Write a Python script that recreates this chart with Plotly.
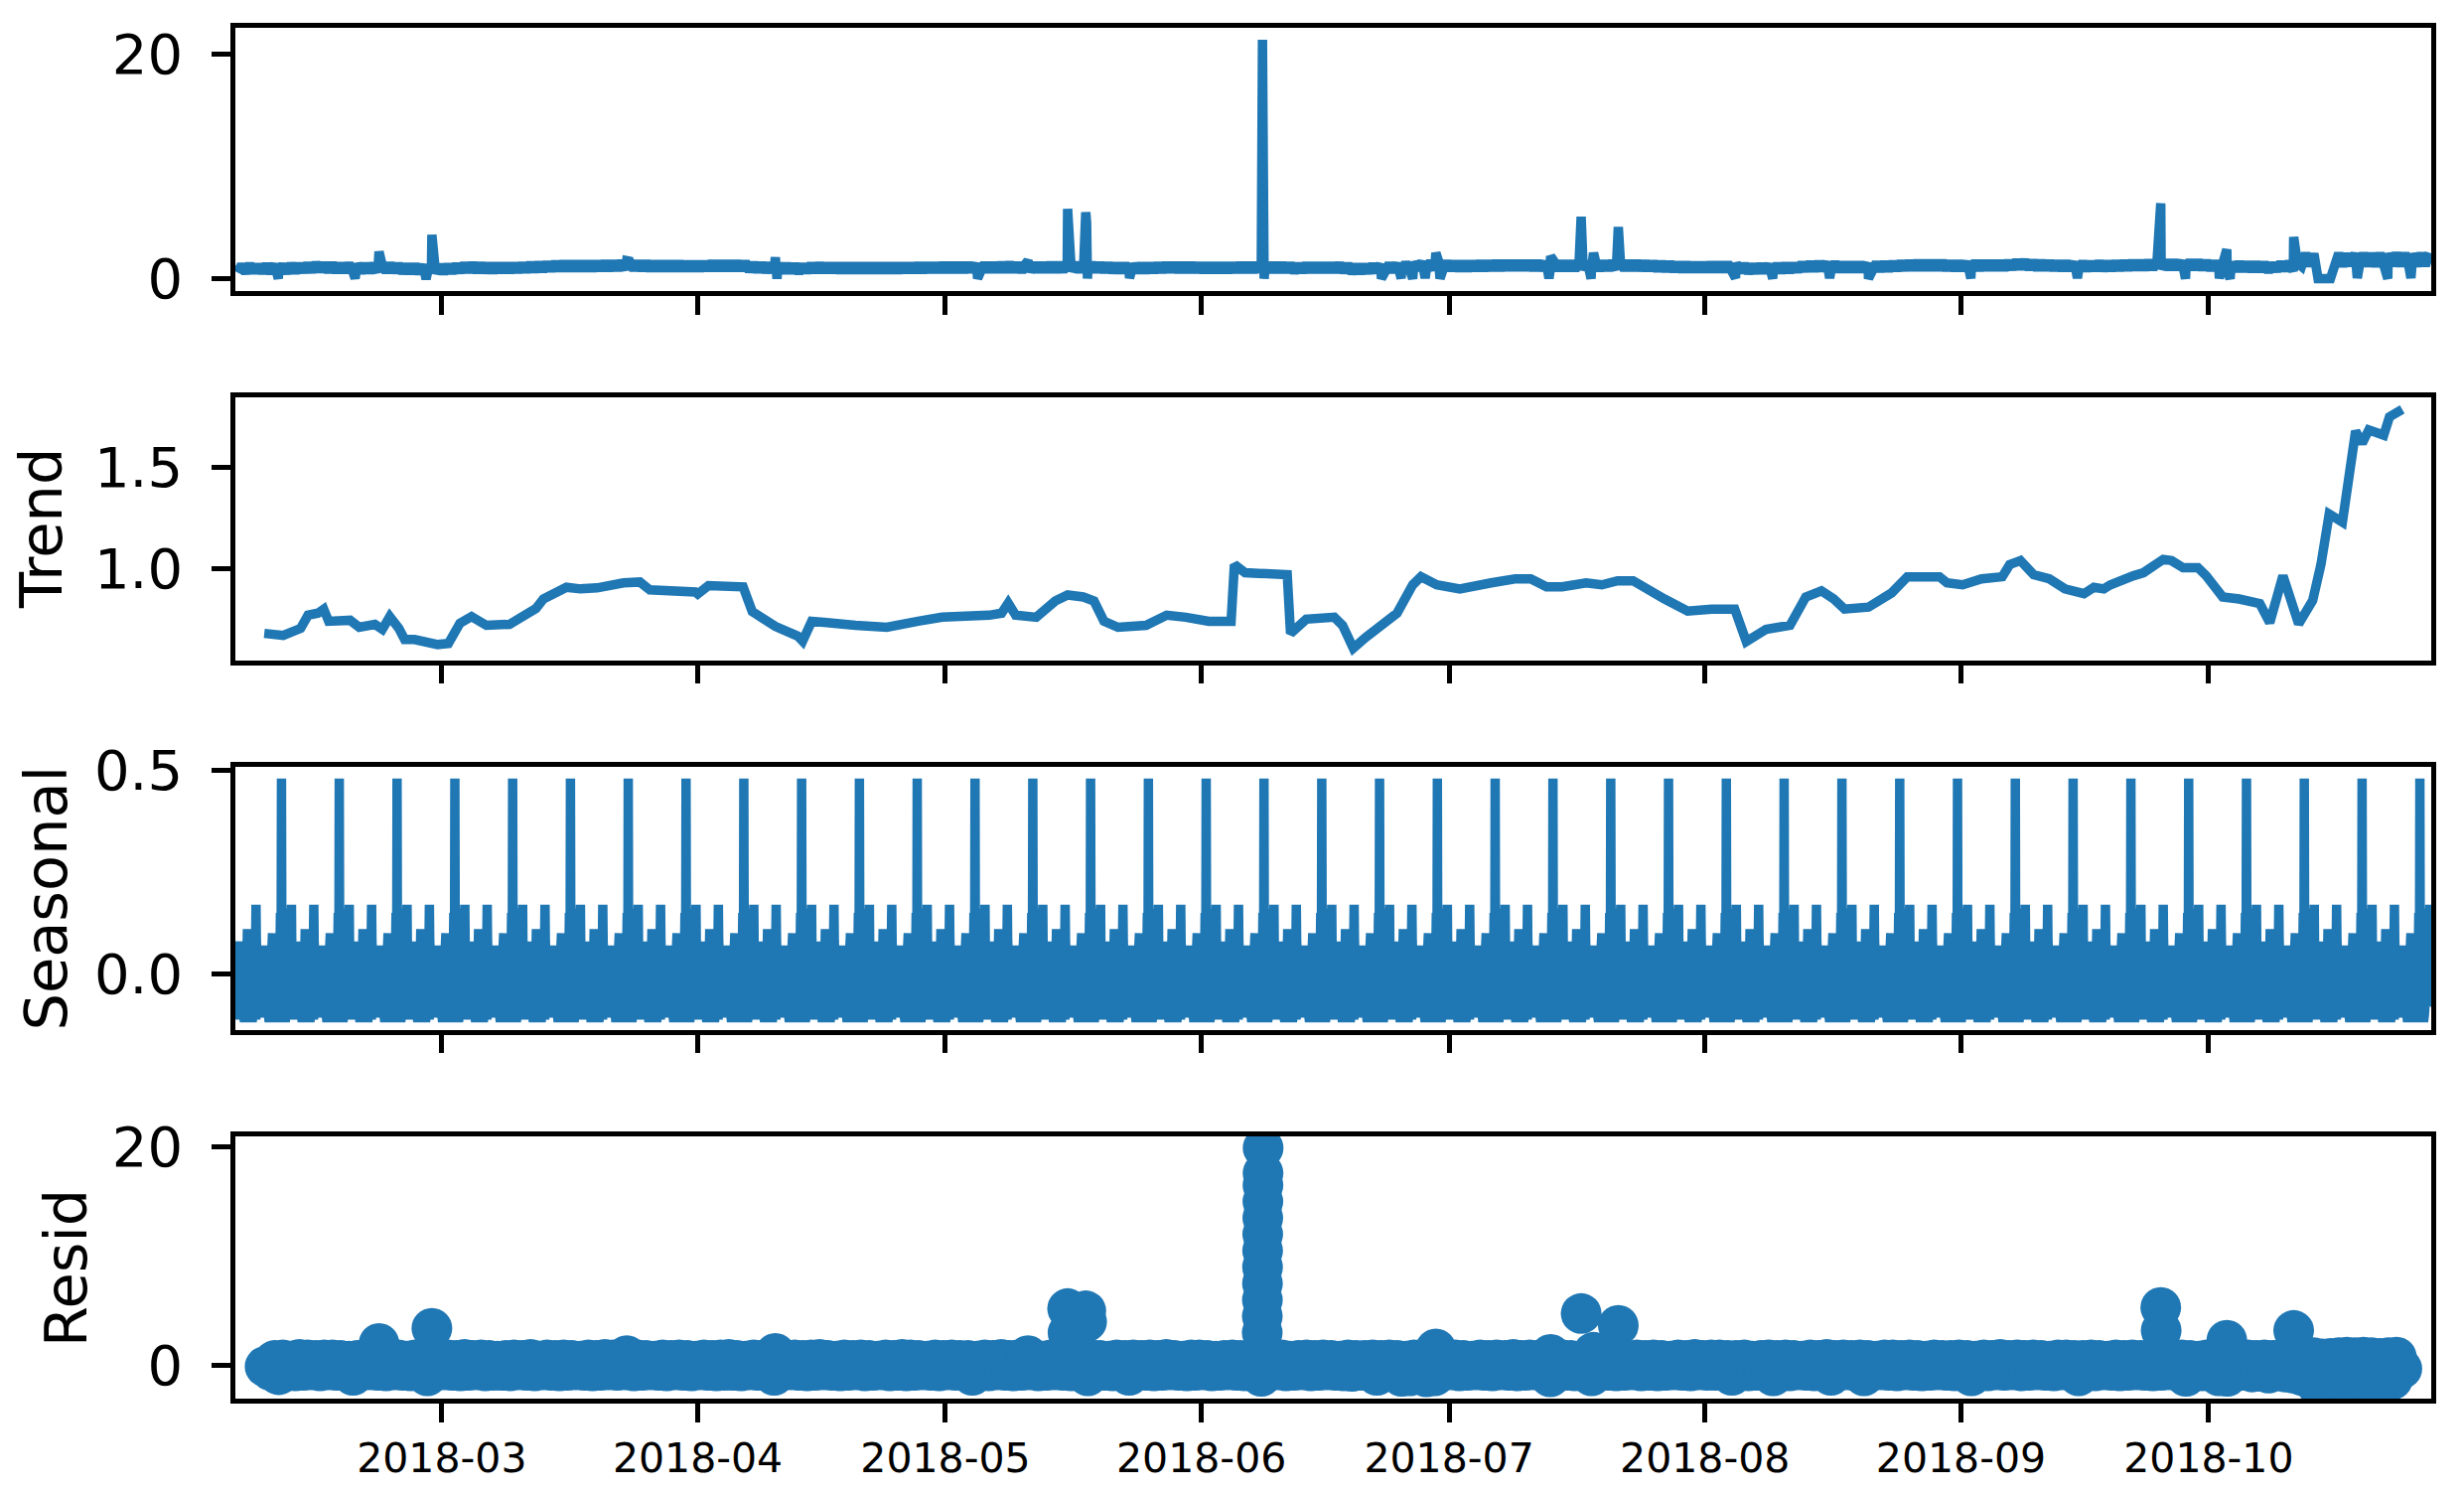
"""
Seasonal decomposition plot (observed / trend / seasonal / resid), hourly data Feb-Oct 2018
"""

import pandas as pd
import plotly.graph_objects as go
from plotly.subplots import make_subplots


BLUE = '#1f77b4'

START = pd.Timestamp('2018-02-04 00:00')
END = pd.Timestamp('2018-10-27 23:00')

MONTH_TICKS = ['2018-03-01', '2018-04-01', '2018-05-01', '2018-06-01',
               '2018-07-01', '2018-08-01', '2018-09-01', '2018-10-01']
MONTH_LABELS = ['2018-03', '2018-04', '2018-05', '2018-06',
                '2018-07', '2018-08', '2018-09', '2018-10']

# --- observed: value at 06:00 and 18:00 of every day (day 0 = 2018-02-04)
OBS_LOW = [
    0.55, 0.50, 0.55, 0.52, 0.48, 0.54, 0.50,
    0.55, 0.60, 0.62, 0.65, 0.60, 0.58, 0.60,
    0.58, 0.55, 0.57, 0.56, 0.60, 0.57, 0.50,
    0.50, 0.48, 0.48, 0.47, 0.48, 0.52, 0.58,
    0.60, 0.58, 0.57, 0.57, 0.58, 0.58, 0.60,
    0.63, 0.65, 0.68, 0.72, 0.74, 0.75, 0.75,
    0.75, 0.75, 0.76, 0.77, 0.78, 0.78, 0.78,
    0.77, 0.74, 0.74, 0.74, 0.74, 0.73, 0.73,
    0.73, 0.76, 0.77, 0.76, 0.76, 0.76, 0.65,
    0.62, 0.59, 0.57, 0.55, 0.53, 0.50, 0.57,
    0.59, 0.58, 0.58, 0.57, 0.57, 0.57, 0.56,
    0.56, 0.56, 0.56, 0.57, 0.58, 0.59, 0.59,
    0.60, 0.61, 0.61, 0.61, 0.61, 0.62, 0.62,
    0.62, 0.63, 0.64, 0.62, 0.61, 0.61, 0.62,
    0.63, 0.63, 0.64, 0.64, 0.63, 0.63, 0.62,
    0.60, 0.57, 0.56, 0.56, 0.56, 0.57, 0.59,
    0.61, 0.62, 0.61, 0.61, 0.60, 0.59, 0.59,
    0.59, 0.59, 0.61, 0.61, 0.61, 0.61, 0.61,
    0.61, 0.61, 0.55, 0.59, 0.60, 0.60, 0.60,
    0.61, 0.57, 0.48, 0.49, 0.53, 0.56, 0.59,
    0.62, 0.66, 0.74, 0.80, 0.79, 0.77, 0.76,
    0.75, 0.75, 0.75, 0.76, 0.77, 0.78, 0.79,
    0.80, 0.80, 0.80, 0.79, 0.77, 0.76, 0.76,
    0.76, 0.77, 0.78, 0.77, 0.77, 0.78, 0.79,
    0.79, 0.79, 0.77, 0.75, 0.72, 0.70, 0.67,
    0.65, 0.64, 0.64, 0.65, 0.65, 0.65, 0.65,
    0.57, 0.50, 0.53, 0.55, 0.55, 0.56, 0.58,
    0.65, 0.71, 0.72, 0.74, 0.71, 0.66, 0.65,
    0.65, 0.66, 0.68, 0.70, 0.72, 0.76, 0.80,
    0.81, 0.81, 0.81, 0.81, 0.78, 0.77, 0.77,
    0.78, 0.79, 0.80, 0.80, 0.81, 0.87, 0.89,
    0.84, 0.81, 0.80, 0.78, 0.76, 0.75, 0.74,
    0.73, 0.76, 0.75, 0.77, 0.79, 0.81, 0.82,
    0.83, 0.86, 0.85, 0.85, 0.85, 0.85, 0.85,
    0.83, 0.78, 0.72, 0.70, 0.70, 0.69, 0.68,
    0.67, 0.60, 0.70, 0.75, 0.65, 1.10, 1.12,
    0.00, 0.00, 1.12, 1.10, 1.15, 1.10, 1.12,
    1.10, 1.12, 1.15, 1.12, 1.10, 1.12, 1.15,
]
OBS_HIGH = [
    1.25, 1.30, 1.22, 1.28, 1.30, 1.26, 1.32,
    1.30, 1.35, 1.40, 1.38, 1.36, 1.32, 1.34,
    1.33, 1.30, 1.32, 1.30, 1.36, 1.31, 1.26,
    1.25, 1.24, 1.22, 1.22, 1.23, 1.27, 1.34,
    1.36, 1.34, 1.32, 1.32, 1.32, 1.33, 1.35,
    1.38, 1.40, 1.44, 1.47, 1.49, 1.50, 1.50,
    1.50, 1.50, 1.51, 1.52, 1.53, 1.55, 1.53,
    1.52, 1.49, 1.49, 1.49, 1.49, 1.48, 1.48,
    1.48, 1.51, 1.52, 1.51, 1.51, 1.51, 1.40,
    1.37, 1.34, 1.32, 1.30, 1.28, 1.25, 1.32,
    1.34, 1.33, 1.33, 1.32, 1.32, 1.32, 1.31,
    1.31, 1.31, 1.31, 1.32, 1.33, 1.34, 1.34,
    1.35, 1.36, 1.36, 1.36, 1.36, 1.37, 1.37,
    1.37, 1.38, 1.42, 1.37, 1.36, 1.36, 1.37,
    1.38, 1.38, 1.39, 1.39, 1.38, 1.38, 1.37,
    1.35, 1.32, 1.31, 1.31, 1.31, 1.32, 1.34,
    1.36, 1.37, 1.36, 1.36, 1.35, 1.34, 1.34,
    1.34, 1.34, 1.36, 1.36, 1.36, 1.36, 1.36,
    1.36, 1.36, 1.30, 1.34, 1.35, 1.35, 1.35,
    1.36, 1.32, 1.23, 1.24, 1.28, 1.31, 1.34,
    1.37, 1.41, 1.49, 1.55, 1.54, 1.52, 1.51,
    1.50, 1.50, 1.50, 1.51, 1.52, 1.53, 1.54,
    1.55, 1.55, 1.55, 1.54, 1.52, 1.51, 1.51,
    1.51, 1.52, 1.53, 1.52, 1.52, 1.53, 1.54,
    1.54, 1.54, 1.52, 1.50, 1.47, 1.45, 1.42,
    1.40, 1.39, 1.39, 1.40, 1.40, 1.40, 1.40,
    1.32, 1.25, 1.28, 1.30, 1.30, 1.31, 1.33,
    1.40, 1.46, 1.47, 1.49, 1.46, 1.41, 1.40,
    1.40, 1.41, 1.43, 1.45, 1.47, 1.51, 1.55,
    1.56, 1.56, 1.56, 1.56, 1.53, 1.52, 1.52,
    1.53, 1.54, 1.55, 1.55, 1.56, 1.62, 1.64,
    1.59, 1.56, 1.55, 1.53, 1.51, 1.50, 1.49,
    1.48, 1.51, 1.50, 1.52, 1.54, 1.56, 1.57,
    1.58, 1.61, 1.60, 1.60, 1.60, 1.60, 1.60,
    1.58, 1.53, 1.47, 1.45, 1.45, 1.44, 1.43,
    1.42, 1.35, 1.45, 1.50, 1.40, 2.25, 2.22,
    0.00, 0.00, 2.25, 2.22, 2.28, 2.25, 2.24,
    2.25, 2.26, 2.28, 2.25, 2.24, 2.27, 2.30,
]
# spikes and drop-outs of the observed series (days since 2018-02-04)
OBS_EVENT_DAYS = [5.2, 14.5, 17.4, 23.1, 23.8, 47.4, 65.4, 65.6, 89.9, 96.0,
                  100.8, 103.0, 103.1, 103.2, 108.3, 124.4, 124.6, 138.8, 141.2,
                  142.6, 144.1, 145.4, 145.9, 159.1, 159.3, 163.0, 164.2, 164.5,
                  167.5, 181.7, 186.2, 193.1, 197.8, 210.2, 223.1, 233.2, 236.2,
                  240.3, 241.2, 241.6, 249.3, 257.0, 260.7, 263.5]
OBS_EVENT_VALUES = [0.0, 0.02, 2.4, -0.05, 3.9, 1.6, 1.9, 0.0, 0.02, 1.6,
                    6.2, 5.9, 5.0, 0.0, 0.05, 21.23, 0.0, 0.0, 0.02,
                    0.0, 0.05, 2.3, 0.0, 0.02, 2.0, 5.5, 0.0, 2.3,
                    4.6, 0.05, 0.0, 0.05, 0.0, 0.02, 0.05, 6.7, 0.0,
                    0.02, 2.6, 0.0, 3.7, 0.05, 0.0, 0.05]

# --- trend (7-day centred moving average), read as knots
TREND_DAYS = [3.5, 5.8, 7.9, 8.8, 10.0, 10.7, 11.3, 13.9, 15.0, 16.9, 17.8, 18.7, 19.8,
              20.5, 21.7, 24.5, 25.8, 27.2, 28.6, 30.4, 33.2, 36.4, 37.3, 40.1, 41.8,
              43.8, 47.0, 49.0, 50.2, 55.7, 56.0, 57.3, 61.5, 62.6, 65.4, 68.1, 68.7,
              69.8, 71.3, 75.1, 78.9, 82.7, 85.6, 91.3, 92.8, 93.6, 94.5, 97.0, 99.3,
              100.8, 102.7, 104.0, 105.2, 106.9, 110.3, 112.8, 115.1, 117.9, 120.6,
              121.0, 122.3, 127.4, 127.8, 129.7, 133.1, 134.1, 135.4, 136.9, 140.7,
              142.6, 143.6, 145.5, 148.3, 152.1, 155.0, 156.9, 158.8, 160.7, 163.6,
              165.5, 167.4, 169.3, 173.1, 175.9, 178.8, 181.6, 183.0, 185.4, 188.3,
              190.2, 192.1, 193.6, 194.9, 197.8, 200.6, 202.5, 206.4, 207.3, 209.2,
              211.5, 214.0, 214.9, 216.2, 217.8, 219.7, 221.6, 223.9, 225.1, 226.3,
              227.1, 229.9, 231.1, 233.5, 234.5, 235.9, 237.7, 238.7, 240.7, 242.7,
              245.2, 246.4, 248.0, 249.9, 251.6, 252.6, 253.6, 255.2, 256.8, 257.6,
              258.4, 260.2, 260.9, 262.45]
TREND_VALUES = [0.68, 0.67, 0.705, 0.77, 0.78, 0.80, 0.74, 0.745, 0.71, 0.725, 0.70, 0.763,
                0.705, 0.65, 0.65, 0.625, 0.63, 0.73, 0.763, 0.72, 0.725, 0.803, 0.85,
                0.908, 0.90, 0.905, 0.93, 0.934, 0.895, 0.885, 0.875, 0.916, 0.91, 0.788,
                0.715, 0.667, 0.642, 0.74, 0.735, 0.72, 0.71, 0.74, 0.76, 0.77, 0.78, 0.83,
                0.77, 0.76, 0.84, 0.87, 0.86, 0.84, 0.74, 0.71, 0.72, 0.77, 0.76, 0.74,
                0.74, 1.02, 0.98, 0.97, 0.68, 0.75, 0.76, 0.72, 0.607, 0.66, 0.78, 0.92,
                0.96, 0.92, 0.90, 0.93, 0.95, 0.95, 0.91, 0.91, 0.93, 0.92, 0.94, 0.94,
                0.85, 0.79, 0.80, 0.80, 0.64, 0.70, 0.72, 0.86, 0.89, 0.85, 0.80, 0.81,
                0.88, 0.96, 0.96, 0.93, 0.92, 0.95, 0.96, 1.02, 1.04, 0.97, 0.95, 0.90,
                0.876, 0.908, 0.90, 0.92, 0.965, 0.98, 1.046, 1.04, 1.005, 1.005, 0.965,
                0.86, 0.85, 0.827, 0.733, 0.965, 0.727, 0.843, 1.02, 1.27, 1.23, 1.68,
                1.62, 1.686, 1.66, 1.75, 1.787]

# --- seasonal: one week of hourly values, Sunday 00:00 -> Saturday 23:00
SEASONAL_WEEK = [
    -0.08, -0.09, -0.10, -0.10, -0.09, -0.07, -0.05, -0.03, 0.00, 0.02, 0.04, 0.05,
    0.07, 0.06, 0.08, 0.05, 0.03, 0.02, 0.00, -0.02, -0.04, -0.06, -0.08, -0.09,
    -0.10, -0.107, -0.107, -0.10, -0.09, -0.07, -0.04, -0.01, 0.02, 0.04, 0.06, 0.11,
    0.08, 0.06, 0.05, 0.07, 0.04, 0.02, 0.00, -0.03, -0.05, -0.07, -0.09, -0.10,
    -0.10, -0.107, -0.107, -0.10, -0.09, -0.07, -0.04, -0.01, 0.02, 0.05, 0.07, 0.09,
    0.17, 0.08, 0.06, 0.07, 0.05, 0.03, 0.01, -0.02, -0.05, -0.07, -0.09, -0.10,
    -0.10, -0.10, -0.105, -0.10, -0.09, -0.07, -0.05, -0.02, 0.01, 0.03, 0.05, 0.06,
    0.05, 0.07, 0.05, 0.04, 0.03, 0.02, 0.00, -0.02, -0.04, -0.06, -0.08, -0.09,
    -0.10, -0.107, -0.107, -0.10, -0.09, -0.07, -0.04, -0.01, 0.02, 0.04, 0.06, 0.08,
    0.10, 0.07, 0.06, 0.05, 0.04, 0.02, 0.00, -0.02, -0.05, -0.07, -0.09, -0.10,
    -0.107, -0.107, -0.107, -0.10, -0.09, -0.07, -0.04, -0.01, 0.02, 0.05, 0.08, 0.15,
    0.09, 0.07, 0.479, 0.10, 0.16, 0.06, 0.02, -0.01, -0.04, -0.07, -0.09, -0.10,
    -0.10, -0.107, -0.107, -0.10, -0.09, -0.07, -0.05, -0.02, 0.01, 0.03, 0.05, 0.06,
    0.08, 0.07, 0.06, 0.08, 0.06, 0.10, 0.12, 0.17, 0.06, 0.00, -0.05, -0.08,
]
N_WEEKS = 38

# --- resid: value at 06:00 and 18:00 from day 4 to day 261
RESID_FIRST_DAY = 4
RESID_LOW = [
    -0.45, -0.85, -0.40, -0.50, -0.45, -0.40, -0.50,
    -0.40, -0.45, -0.50, -0.90, -0.45, -0.40, -0.45,
    -0.50, -0.40, -0.45, -0.50, -0.40, -0.95, -0.45,
    -0.40, -0.45, -0.50, -0.45, -0.40, -0.50, -0.45,
    -0.45, -0.50, -0.40, -0.45, -0.50, -0.40, -0.45,
    -0.50, -0.45, -0.40, -0.45, -0.50, -0.45, -0.40,
    -0.45, -0.40, -0.50, -0.45, -0.40, -0.45, -0.50,
    -0.40, -0.45, -0.50, -0.40, -0.45, -0.50, -0.45,
    -0.45, -0.50, -0.40, -0.45, -0.50, -0.90, -0.45,
    -0.40, -0.45, -0.50, -0.45, -0.40, -0.45, -0.50,
    -0.45, -0.40, -0.50, -0.45, -0.40, -0.50, -0.45,
    -0.50, -0.45, -0.40, -0.45, -0.50, -0.40, -0.45,
    -0.40, -0.90, -0.45, -0.50, -0.40, -0.45, -0.50,
    -0.45, -0.40, -0.50, -0.45, -0.40, -0.45, -0.50,
    -0.45, -0.95, -0.40, -0.45, -0.50, -0.45, -0.90,
    -0.40, -0.45, -0.50, -0.45, -0.40, -0.45, -0.50,
    -0.45, -0.40, -0.50, -0.45, -0.40, -0.45, -0.50,
    -0.45, -1.00, -0.45, -0.40, -0.50, -0.45, -0.40,
    -0.50, -0.45, -0.40, -0.45, -0.50, -0.55, -0.45,
    -0.50, -0.90, -0.45, -0.50, -1.00, -0.95, -0.45,
    -1.05, -0.95, -0.45, -0.40, -0.50, -0.45, -0.40,
    -0.45, -0.50, -0.40, -0.45, -0.50, -0.45, -0.40,
    -0.45, -1.05, -0.40, -0.45, -0.50, -0.45, -0.95,
    -0.40, -0.45, -0.50, -0.45, -0.40, -0.50, -0.45,
    -0.50, -0.45, -0.40, -0.45, -0.50, -0.40, -0.45,
    -0.45, -0.40, -0.90, -0.45, -0.50, -0.45, -0.40,
    -0.95, -0.45, -0.50, -0.40, -0.45, -0.50, -0.45,
    -0.90, -0.45, -0.40, -0.50, -0.95, -0.45, -0.40,
    -0.45, -0.50, -0.40, -0.45, -0.50, -0.45, -0.40,
    -0.45, -0.50, -0.40, -0.95, -0.45, -0.50, -0.40,
    -0.45, -0.40, -0.50, -0.45, -0.40, -0.45, -0.50,
    -0.40, -0.45, -0.95, -0.45, -0.50, -0.40, -0.45,
    -0.50, -0.45, -0.40, -0.45, -0.50, -0.45, -0.40,
    -0.45, -1.00, -0.45, -0.50, -0.45, -0.95, -1.00,
    -0.50, -0.45, -0.60, -0.55, -0.70, -0.50, -0.60,
    -0.70, -0.90, -1.20, -1.95, -1.70, -1.30, -1.35,
    -1.30, -1.45, -1.30, -1.25, -1.40, -1.30,
]
RESID_HIGH = [
    0.45, 0.50, 0.40, 0.55, 0.50, 0.45, 0.50,
    0.50, 0.45, 0.40, 0.45, 0.50, 0.45, 0.55,
    0.45, 0.50, 0.40, 0.50, 0.45, 0.40, 0.50,
    0.50, 0.45, 0.55, 0.45, 0.50, 0.45, 0.40,
    0.45, 0.50, 0.45, 0.55, 0.40, 0.50, 0.45,
    0.50, 0.45, 0.40, 0.50, 0.45, 0.55, 0.50,
    0.45, 0.55, 0.50, 0.45, 0.40, 0.50, 0.45,
    0.50, 0.45, 0.40, 0.50, 0.45, 0.50, 0.55,
    0.45, 0.40, 0.50, 0.45, 0.50, 0.45, 0.40,
    0.50, 0.45, 0.50, 0.55, 0.45, 0.40, 0.50,
    0.45, 0.50, 0.45, 0.40, 0.50, 0.45, 0.55,
    0.50, 0.45, 0.40, 0.50, 0.45, 0.50, 0.45,
    0.45, 0.40, 0.50, 0.45, 0.55, 0.45, 0.50,
    0.50, 0.45, 0.40, 0.50, 0.45, 0.50, 0.45,
    0.45, 0.50, 0.45, 0.40, 0.50, 0.45, 0.50,
    0.45, 0.50, 0.45, 0.55, 0.45, 0.40, 0.50,
    0.50, 0.45, 0.40, 0.45, 0.50, 0.45, 0.40,
    0.45, 0.50, 0.45, 0.50, 0.40, 0.45, 0.50,
    0.45, 0.50, 0.45, 0.40, 0.50, 0.45, 0.45,
    0.50, 0.45, 0.50, 0.45, 0.40, 0.50, 0.55,
    0.45, 0.50, 0.45, 0.50, 0.45, 0.40, 0.50,
    0.45, 0.50, 0.45, 0.55, 0.45, 0.50, 0.45,
    0.50, 0.45, 0.50, 0.45, 0.40, 0.50, 0.45,
    0.45, 0.50, 0.45, 0.40, 0.50, 0.45, 0.50,
    0.45, 0.40, 0.50, 0.45, 0.55, 0.45, 0.50,
    0.50, 0.45, 0.45, 0.50, 0.40, 0.45, 0.50,
    0.45, 0.50, 0.45, 0.40, 0.50, 0.45, 0.55,
    0.45, 0.50, 0.45, 0.50, 0.45, 0.40, 0.50,
    0.50, 0.45, 0.50, 0.45, 0.40, 0.50, 0.45,
    0.45, 0.50, 0.45, 0.40, 0.50, 0.45, 0.55,
    0.45, 0.50, 0.45, 0.50, 0.45, 0.40, 0.50,
    0.50, 0.45, 0.45, 0.50, 0.45, 0.40, 0.50,
    0.45, 0.50, 0.45, 0.50, 0.45, 0.50, 0.45,
    0.50, 0.45, 0.40, 0.50, 0.45, 0.45, 0.50,
    0.45, 0.50, 0.45, 0.50, 0.45, 0.55, 0.50,
    0.80, 0.75, 0.70, 0.60, 0.65, 0.70, 0.75,
    0.70, 0.75, 0.70, 0.65, 0.70, 0.75,
]
RESID_EVENT_DAYS = [3.6, 17.4, 23.8, 47.4, 65.4, 96.0, 100.8, 100.85, 103.0, 103.1,
                    124.36, 124.37, 124.38, 124.39, 124.40, 124.41, 124.42, 124.43,
                    124.44, 124.45, 124.46, 124.47, 124.48,
                    145.4, 159.3, 163.0, 164.5, 167.5, 233.2, 233.25, 241.2,
                    249.3, 262.4]
RESID_EVENT_VALUES = [-0.1, 2.0, 3.4, 0.9, 1.1, 0.9, 5.2, 3.0, 5.0, 4.0,
                      1.5, 3.0, 4.5, 6.0, 7.5, 9.0, 10.5, 12.0,
                      13.5, 15.0, 16.5, 17.6, 19.9,
                      1.5, 1.0, 4.75, 1.2, 3.66, 5.3, 3.2, 2.3,
                      3.2, -0.3]


def to_time(days):
    return START + pd.to_timedelta(days, unit='D')


def twice_daily(low, high, first_day, event_days, event_values):
    """06:00 / 18:00 values plus irregular events, sorted in time"""
    days, vals = [], []
    for i, (lo, hi) in enumerate(zip(low, high)):
        days += [first_day + i + 0.25, first_day + i + 0.75]
        vals += [lo, hi]
    s = pd.Series(vals + event_values, index=days + event_days).sort_index()
    return to_time(s.index.values), s.values


obs_t, obs_v = twice_daily(OBS_LOW, OBS_HIGH, 0, OBS_EVENT_DAYS, OBS_EVENT_VALUES)
res_t, res_v = twice_daily(RESID_LOW, RESID_HIGH, RESID_FIRST_DAY,
                           RESID_EVENT_DAYS, RESID_EVENT_VALUES)
trend_t = to_time(pd.Series(TREND_DAYS).values)
seas_t = pd.date_range(START, periods=len(SEASONAL_WEEK) * N_WEEKS, freq='h')
seas_v = SEASONAL_WEEK * N_WEEKS

fig = make_subplots(rows=4, cols=1, shared_xaxes=True)

line = dict(color=BLUE, width=9.5, simplify=False)
fig.add_trace(go.Scatter(x=obs_t, y=obs_v, mode='lines', line=line), row=1, col=1)
fig.add_trace(go.Scatter(x=trend_t, y=TREND_VALUES, mode='lines', line=line), row=2, col=1)
fig.add_trace(go.Scatter(x=seas_t, y=seas_v, mode='lines', line=line), row=3, col=1)
fig.add_trace(go.Scatter(x=res_t, y=res_v, mode='markers',
                         marker=dict(color=BLUE, size=41, line=dict(width=0))),
              row=4, col=1)

axis_style = dict(
    showline=True, linecolor='black', linewidth=4.5, mirror=True,
    ticks='outside', ticklen=19, tickwidth=4.5, tickcolor='black',
    showgrid=False, zeroline=False, automargin=False,
)
fig.update_xaxes(**axis_style, range=[START, END],
                 tickvals=MONTH_TICKS, ticktext=MONTH_LABELS,
                 tickfont=dict(size=41), ticklabelstandoff=1)
for r in (1, 2, 3):
    fig.update_xaxes(showticklabels=False, row=r, col=1)
fig.update_xaxes(showticklabels=True, row=4, col=1)

fig.update_yaxes(**axis_style, tickfont=dict(size=56), ticklabelstandoff=18)
fig.update_yaxes(range=[-1.11, 22.3], tickvals=[0, 20], ticktext=['0', '20'], row=1, col=1)
fig.update_yaxes(range=[0.547, 1.846], tickvals=[1.0, 1.5], ticktext=['1.0', '1.5'], row=2, col=1)
fig.update_yaxes(range=[-0.136, 0.508], tickvals=[0.0, 0.5], ticktext=['0.0', '0.5'], row=3, col=1)
fig.update_yaxes(range=[-3.04, 21.0], tickvals=[0, 20], ticktext=['0', '20'], row=4, col=1)

fig.update_layout(
    yaxis=dict(domain=[0.8079, 1.0]),
    yaxis2=dict(domain=[0.5386, 0.7303]),
    yaxis3=dict(domain=[0.2692, 0.4609]),
    yaxis4=dict(domain=[0.0, 0.1916]),
)

for text, x, y in [('Trend', -0.0884, 0.6344),
                   ('Seasonal', -0.0862, 0.3651),
                   ('Resid', -0.0769, 0.0957)]:
    fig.add_annotation(text=text, xref='paper', yref='paper', x=x, y=y,
                       xanchor='center', yanchor='middle', textangle=-90,
                       showarrow=False, font=dict(size=59))

fig.update_layout(
    width=2481,
    height=1503,
    margin=dict(l=237, r=33, t=28, b=95, autoexpand=False),
    paper_bgcolor='white',
    plot_bgcolor='white',
    showlegend=False,
    hovermode=False,
    font=dict(family='DejaVu Sans', color='black'),
)

fig.write_html('out.html', config=dict(displayModeBar=False),
               post_script="document.body.style.margin = '0px';")
